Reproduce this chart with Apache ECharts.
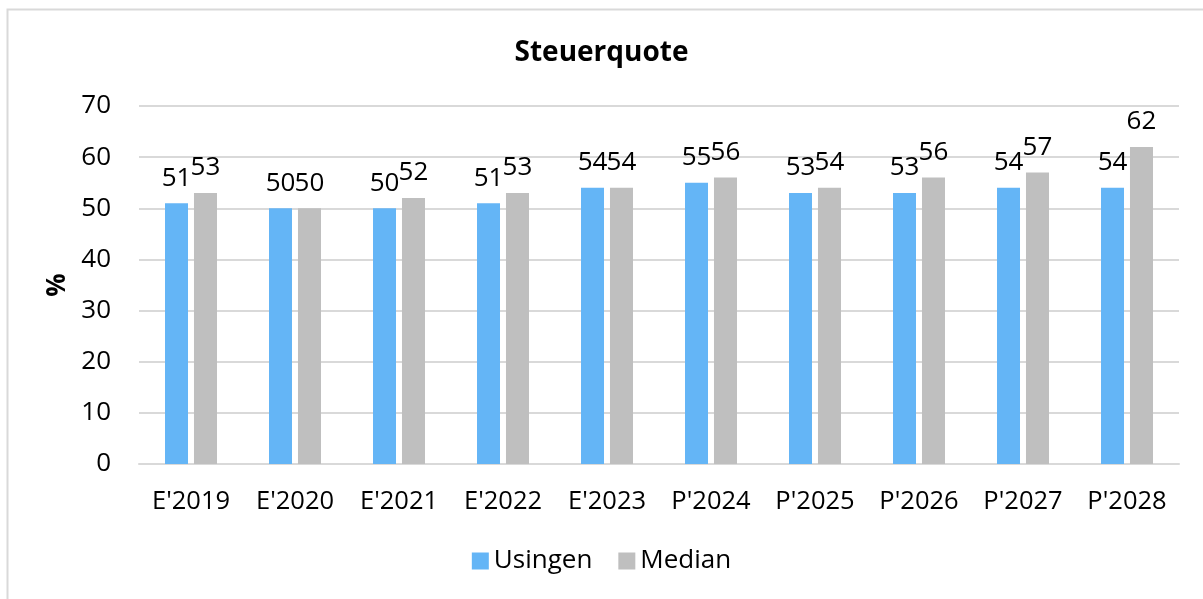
<!DOCTYPE html>
<html>
<head>
<meta charset="utf-8">
<script src="https://cdn.jsdelivr.net/npm/echarts@6/dist/echarts.min.js"></script>
<style>
  html, body { margin: 0; padding: 0; background: #fff; }
  #main { width: 1203px; height: 599px; }
</style>
</head>
<body>
<div id="main"></div>
<script>
// Daten
var categories = ["E'2019", "E'2020", "E'2021", "E'2022", "E'2023", "P'2024", "P'2025", "P'2026", "P'2027", "P'2028"];
var usingen = [51, 50, 50, 51, 54, 55, 53, 53, 54, 54];
var median = [53, 50, 52, 53, 54, 56, 54, 56, 57, 62];
var yTicks = [0, 10, 20, 30, 40, 50, 60, 70];

(function() {
  var myChart = echarts.init(document.getElementById("main"));
  var font = "'Open Sans', sans-serif";

  var labelStyle = {
    show: true,
    position: "top",
    distance: 12,
    color: "#000",
    fontSize: 26,
    fontFamily: font
  };

  var option = {
    animation: false,
    backgroundColor: "#fff",
    graphic: [
      {
        type: "rect",
        left: 5,
        top: 7,
        shape: { width: 1210, height: 600 },
        style: { fill: "none", stroke: "#d9d9d9", lineWidth: 2 }
      }
    ],
    title: {
      text: "Steuerquote",
      left: "center",
      top: 34,
      textStyle: {
        fontFamily: font,
        fontWeight: "bold",
        fontSize: 28,
        color: "#000"
      }
    },
    legend: {
      bottom: 20,
      left: "center",
      itemWidth: 17,
      itemHeight: 17,
      itemGap: 26,
      icon: "rect",
      textStyle: { fontFamily: font, fontSize: 26, color: "#000" },
      data: ["Usingen", "Median"]
    },
    grid: {
      left: 139,
      right: 24,
      top: 106,
      bottom: 135
    },
    xAxis: {
      type: "category",
      data: categories,
      axisTick: { show: false },
      axisLine: { lineStyle: { color: "#d9d9d9", width: 2 } },
      axisLabel: {
        interval: 0,
        margin: 25,
        color: "#000",
        fontSize: 25.5,
        fontFamily: font
      }
    },
    yAxis: {
      type: "value",
      min: yTicks[0],
      max: yTicks[yTicks.length - 1],
      interval: 10,
      name: "%",
      nameLocation: "middle",
      nameGap: 68,
      nameRotate: 90,
      nameTextStyle: {
        fontFamily: font,
        fontWeight: "bold",
        fontSize: 26,
        color: "#000"
      },
      axisLine: { show: false },
      axisTick: { show: false },
      axisLabel: {
        margin: 28,
        color: "#000",
        fontSize: 26,
        fontFamily: font
      },
      splitLine: { lineStyle: { color: "#d9d9d9", width: 2 } }
    },
    series: [
      {
        name: "Usingen",
        type: "bar",
        data: usingen,
        barWidth: 23,
        barGap: "26%",
        itemStyle: { color: "#64b5f6" },
        label: labelStyle
      },
      {
        name: "Median",
        type: "bar",
        data: median,
        barWidth: 23,
        barGap: "26%",
        itemStyle: { color: "#bfbfbf" },
        label: labelStyle
      }
    ]
  };

  myChart.setOption(option);
  window.addEventListener("resize", function() {
    myChart.resize();
  });
})();
</script>
</body>
</html>
